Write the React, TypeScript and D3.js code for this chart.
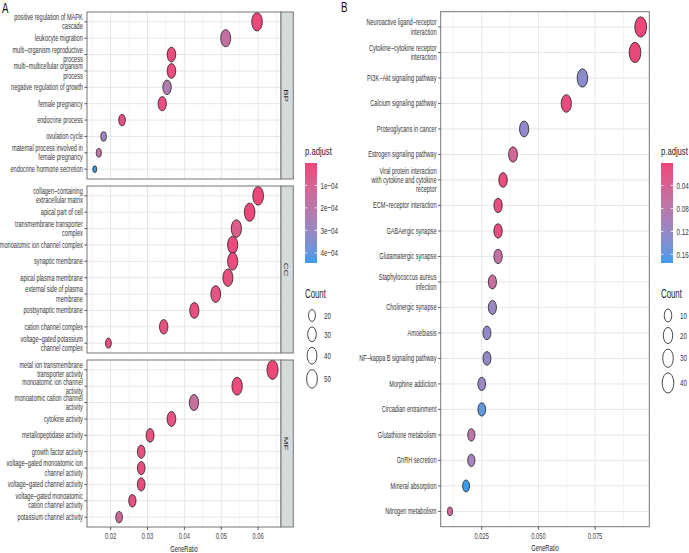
import React from "react";
import * as d3 from "d3";

// ---------- GO enrichment (panel A) ----------
const bpTerms = [
  "positive regulation of MAPK cascade",
  "leukocyte migration",
  "multi-organism reproductive process",
  "multi-multicellular organism process",
  "negative regulation of growth",
  "female pregnancy",
  "endocrine process",
  "ovulation cycle",
  "maternal process involved in female pregnancy",
  "endocrine hormone secretion",
];
const bpRatio = [0.0597, 0.0512, 0.0365, 0.0365, 0.0353, 0.034, 0.0231, 0.0181, 0.0168, 0.0157];
const bpCount = [49, 42, 30, 30, 29, 28, 19, 15, 14, 13];
const bpPadj = [3e-6, 1.65e-4, 1.5e-5, 1.5e-5, 2.25e-4, 2.6e-5, 2.8e-5, 2.8e-4, 1.85e-4, 4.45e-4];

const ccTerms = [
  "collagen-containing extracellular matrix",
  "apical part of cell",
  "transmembrane transporter complex",
  "monoatomic ion channel complex",
  "synaptic membrane",
  "apical plasma membrane",
  "external side of plasma membrane",
  "postsynaptic membrane",
  "cation channel complex",
  "voltage-gated potassium channel complex",
];
const ccRatio = [0.06, 0.0577, 0.0541, 0.0531, 0.0531, 0.0518, 0.0485, 0.0427, 0.0344, 0.0194];
const ccCount = [50, 48, 45, 44, 44, 43, 40, 35, 29, 16];
const ccPadj = [2e-7, 5e-6, 7e-5, 1.2e-5, 1.5e-5, 2.5e-5, 5e-5, 2.5e-5, 3e-5, 3e-5];

const mfTerms = [
  "metal ion transmembrane transporter activity",
  "monoatomic ion channel activity",
  "monoatomic cation channel activity",
  "cytokine activity",
  "metallopeptidase activity",
  "growth factor activity",
  "voltage-gated monoatomic ion channel activity",
  "voltage-gated channel activity",
  "voltage-gated monoatomic cation channel activity",
  "potassium channel activity",
];
const mfRatio = [0.0639, 0.0543, 0.0426, 0.0365, 0.0307, 0.0283, 0.0283, 0.0283, 0.0259, 0.0223];
const mfCount = [54, 46, 36, 31, 26, 24, 24, 24, 22, 19];
const mfPadj = [1e-6, 1.5e-5, 1.6e-4, 3.5e-5, 3e-5, 3e-5, 2.5e-5, 2.5e-5, 3.5e-5, 1.3e-4];

const goOntologies = ["BP", "CC", "MF"];
const goTicks = [0.02, 0.03, 0.04, 0.05, 0.06];
const goMinorTicks = [0.015, 0.025, 0.035, 0.045, 0.055, 0.065];
const goPadjBreaks = [1e-4, 2e-4, 3e-4, 4e-4];
const goPadjLabels = ["1e-04", "2e-04", "3e-04", "4e-04"];
const goCountBreaks = [20, 30, 40, 50];

// ---------- KEGG enrichment (panel B) ----------
const keggTerms = [
  "Neuroactive ligand-receptor interaction",
  "Cytokine-cytokine receptor interaction",
  "PI3K-Akt signaling pathway",
  "Calcium signaling pathway",
  "Proteoglycans in cancer",
  "Estrogen signaling pathway",
  "Viral protein interaction with cytokine and cytokine receptor",
  "ECM-receptor interaction",
  "GABAergic synapse",
  "Glutamatergic synapse",
  "Staphylococcus aureus infection",
  "Cholinergic synapse",
  "Amoebiasis",
  "NF-kappa B signaling pathway",
  "Morphine addiction",
  "Circadian entrainment",
  "Glutathione metabolism",
  "GnRH secretion",
  "Mineral absorption",
  "Nitrogen metabolism",
];
const keggRatio = [
  0.0951, 0.0926, 0.0694, 0.0623, 0.0437, 0.0388, 0.0344, 0.0322, 0.0322, 0.0322,
  0.0297, 0.0297, 0.0273, 0.0273, 0.025, 0.025, 0.0204, 0.0204, 0.0181, 0.011,
];
const keggCount = [42, 41, 30, 27, 19, 17, 15, 14, 14, 14, 13, 13, 12, 12, 11, 11, 9, 9, 8, 5];
const keggPadj = [
  0.0008, 0.002, 0.13, 0.008, 0.124, 0.046, 0.01, 0.012, 0.012, 0.07,
  0.06, 0.115, 0.122, 0.122, 0.116, 0.158, 0.075, 0.105, 0.175, 0.05,
];
const keggTicks = [0.025, 0.05, 0.075];
const keggMinorTicks = [0.0125, 0.0375, 0.0625, 0.0875];
const keggPadjBreaks = [0.04, 0.08, 0.12, 0.16];
const keggCountBreaks = [10, 20, 30, 40];

// ---------- styling ----------
const FONT = "'Liberation Sans', Arial, Helvetica, sans-serif";
const SX = 0.58; // horizontal compression of markers
const TX = 0.65; // horizontal compression of glyphs
const LOW_COL = "#EC4779";
const HIGH_COL = "#3C9CEB";
const GRID = "#E2E8E9";
const BORDER = "#777";
const LABEL = "#333";
const LINE_H = 9.3;

type Row = { term: string; ratio: number; count: number; padj: number };

const zipRows = (t: string[], r: number[], c: number[], p: number[]): Row[] =>
  t.map((term, i) => ({ term, ratio: r[i], count: c[i], padj: p[i] }));

function wrapText(s: string, width: number): string[] {
  const words = s.split(" ");
  const lines: string[] = [];
  let cur = "";
  for (const w of words) {
    if (!cur) cur = w;
    else if (cur.length + 1 + w.length <= width) cur += " " + w;
    else {
      lines.push(cur);
      cur = w;
    }
  }
  if (cur) lines.push(cur);
  return lines;
}
const minus = (s: string) => s.replace(/-/g, "\u2212");

function SText(props: {
  x: number;
  y: number;
  children: React.ReactNode;
  anchor?: string;
  size?: number;
  fill?: string;
  rotate?: number;
}) {
  const { x, y, children, anchor = "start", size = 8.6, fill = LABEL, rotate = 0 } = props;
  return (
    <text
      transform={`translate(${x},${y}) scale(${TX},1)${rotate ? ` rotate(${rotate})` : ""}`}
      textAnchor={anchor}
      fontSize={size}
      fill={fill}
      fontFamily={FONT}
    >
      {children}
    </text>
  );
}

function makeSize(counts: number[], rMin: number, rMax: number) {
  const lo = d3.min(counts) as number;
  const hi = d3.max(counts) as number;
  const t = d3.scaleSqrt().domain([0, hi - lo]).range([0, 1]).clamp(true);
  return (c: number) => rMin + (rMax - rMin) * t(c - lo);
}

function DotPanel(props: {
  rows: Row[];
  x: d3.ScaleLinear<number, number>;
  top: number;
  height: number;
  wrapWidth: number;
  color: (p: number) => string;
  size: (c: number) => number;
  majors: number[];
  minors: number[];
  strip?: string;
}) {
  const { rows, x, top, height, wrapWidth, color, size, majors, minors, strip } = props;
  const [x0, x1] = x.range();
  const y = d3
    .scalePoint<string>()
    .domain(rows.map((r) => r.term))
    .range([top, top + height])
    .padding(0.6);
  const drawOrder = [...rows].sort((a, b) => b.count - a.count);
  return (
    <g>
      <rect x={x0} y={top} width={x1 - x0} height={height} fill="#fff" />
      {minors.map((v) => (
        <line key={"mn" + v} x1={x(v)} x2={x(v)} y1={top} y2={top + height} stroke={GRID} strokeWidth={0.5} />
      ))}
      {majors.map((v) => (
        <line key={"mj" + v} x1={x(v)} x2={x(v)} y1={top} y2={top + height} stroke={GRID} strokeWidth={1} />
      ))}
      {rows.map((r) => (
        <line key={"h" + r.term} x1={x0} x2={x1} y1={y(r.term)} y2={y(r.term)} stroke={GRID} strokeWidth={1} />
      ))}
      {drawOrder.map((r) => (
        <ellipse
          key={"d" + r.term}
          cx={x(r.ratio)}
          cy={y(r.term) as number}
          rx={size(r.count) * SX}
          ry={size(r.count)}
          fill={color(r.padj)}
          stroke="#1a1a1a"
          strokeWidth={0.75}
        />
      ))}
      <rect x={x0} y={top} width={x1 - x0} height={height} fill="none" stroke={BORDER} strokeWidth={1} />
      {rows.map((r) => {
        const cy = y(r.term) as number;
        const lines = wrapText(r.term, wrapWidth);
        const startY = cy - ((lines.length - 1) * LINE_H) / 2;
        return (
          <g key={"l" + r.term}>
            <line x1={x0 - 2.6} x2={x0} y1={cy} y2={cy} stroke="#333" strokeWidth={0.8} />
            {lines.map((ln, i) => (
              <SText key={i} x={x0 - 4.2} y={startY + i * LINE_H + 3} anchor="end" size={8.6}>
                {minus(ln)}
              </SText>
            ))}
          </g>
        );
      })}
      {strip && (
        <g>
          <rect x={x1} y={top} width={12.3} height={height} fill="#D5DBDB" stroke={BORDER} strokeWidth={1} />
          <SText x={x1 + 6.15 - 3.2} y={top + height / 2} anchor="middle" size={9.5} fill="#222" rotate={90}>
            {strip}
          </SText>
        </g>
      )}
    </g>
  );
}

function XAxis(props: {
  x: d3.ScaleLinear<number, number>;
  y: number;
  ticks: number[];
  fmt: (v: number) => string;
}) {
  const { x, y, ticks, fmt } = props;
  const [x0, x1] = x.range();
  return (
    <g>
      {ticks.map((v) => (
        <g key={v}>
          <line x1={x(v)} x2={x(v)} y1={y} y2={y + 3} stroke="#333" strokeWidth={0.8} />
          <SText x={x(v)} y={y + 12.3} anchor="middle" size={8.9} fill="#444">
            {fmt(v)}
          </SText>
        </g>
      ))}
      <SText x={(x0 + x1) / 2} y={y + 24.5} anchor="middle" size={8.8} fill="#222">
        GeneRatio
      </SText>
    </g>
  );
}

function Legends(props: {
  id: string;
  left: number;
  pDomain: [number, number];
  color: (p: number) => string;
  pBreaks: number[];
  pLabels: string[];
  size: (c: number) => number;
  countBreaks: number[];
}) {
  const { id, left, pDomain, color, pBreaks, pLabels, size, countBreaks } = props;
  const barTop = 163;
  const barH = 100;
  const barW = 12;
  const py = d3.scaleLinear().domain(pDomain).range([barTop, barTop + barH]);
  const stops = d3.range(0, 1.0001, 0.1);
  // count keys stacked by their symbol size
  const heights = countBreaks.map((c) => Math.max(17, 2 * size(c) + 5.5));
  const centers: number[] = [];
  let acc = 315.5;
  heights.forEach((h, i) => {
    if (i > 0) acc += (heights[i - 1] + h) / 2;
    centers.push(acc);
  });
  const cx = left + 7;
  return (
    <g>
      <defs>
        <linearGradient id={id} x1="0" y1="0" x2="0" y2="1">
          {stops.map((s) => (
            <stop key={s} offset={s} stopColor={color(pDomain[0] + s * (pDomain[1] - pDomain[0]))} />
          ))}
        </linearGradient>
      </defs>
      <SText x={left} y={155} size={11.8} fill="#222">
        p.adjust
      </SText>
      <rect x={left} y={barTop} width={barW} height={barH} fill={`url(#${id})`} />
      {pBreaks.map((b, i) => (
        <g key={b}>
          <line x1={left} x2={left + 2.4} y1={py(b)} y2={py(b)} stroke="#fff" strokeWidth={0.8} />
          <line x1={left + barW - 2.4} x2={left + barW} y1={py(b)} y2={py(b)} stroke="#fff" strokeWidth={0.8} />
          <SText x={left + barW + 3.5} y={py(b) + 3.2} size={9.6} fill="#333">
            {minus(pLabels[i])}
          </SText>
        </g>
      ))}
      <SText x={left} y={298} size={12} fill="#222">
        Count
      </SText>
      {countBreaks.map((c, i) => (
        <g key={c}>
          <ellipse cx={cx} cy={centers[i]} rx={size(c) * SX} ry={size(c)} fill="none" stroke="#1a1a1a" strokeWidth={0.8} />
          <SText x={cx + 12} y={centers[i] + 3.2} size={9.6} fill="#333">
            {c}
          </SText>
        </g>
      ))}
    </g>
  );
}

export default function App() {
  const bp = zipRows(bpTerms, bpRatio, bpCount, bpPadj);
  const cc = zipRows(ccTerms, ccRatio, ccCount, ccPadj);
  const mf = zipRows(mfTerms, mfRatio, mfCount, mfPadj);
  const kegg = zipRows(keggTerms, keggRatio, keggCount, keggPadj);
  const goRows = [bp, cc, mf];

  // panel A scales
  const goAll = [...bp, ...cc, ...mf];
  const xA = d3.scaleLinear().domain([0.0136, 0.0662]).range([87, 281]);
  const goPDomain: [number, number] = [d3.min(goAll, (d) => d.padj) as number, d3.max(goAll, (d) => d.padj) as number];
  const colA = d3.scaleLinear<string>().domain(goPDomain).range([LOW_COL, HIGH_COL]).interpolate(d3.interpolateLab);
  const sizeA = makeSize(goAll.map((d) => d.count), 3.4, 9.6);
  const facetTops = [12, 186, 360];
  const facetH = 167;

  // panel B scales
  const xB = d3.scaleLinear().domain([0.0069, 0.0989]).range([440.7, 649.3]);
  const keggPDomain: [number, number] = [d3.min(kegg, (d) => d.padj) as number, d3.max(kegg, (d) => d.padj) as number];
  const colB = d3.scaleLinear<string>().domain(keggPDomain).range([LOW_COL, HIGH_COL]).interpolate(d3.interpolateLab);
  const sizeB = makeSize(kegg.map((d) => d.count), 4.3, 10.2);

  return (
    <svg width={689} height={553} style={{ position: "absolute", left: 0, top: 0, background: "#fff" }}>
      <rect width={689} height={553} fill="#fff" />
      <SText x={2} y={13} size={15} fill="#111">
        A
      </SText>
      {goRows.map((rows, i) => (
        <DotPanel
          key={goOntologies[i]}
          rows={rows}
          x={xA}
          top={facetTops[i]}
          height={facetH}
          wrapWidth={30}
          color={colA}
          size={sizeA}
          majors={goTicks}
          minors={goMinorTicks}
          strip={goOntologies[i]}
        />
      ))}
      <XAxis x={xA} y={facetTops[2] + facetH} ticks={goTicks} fmt={d3.format(".2f")} />
      <Legends
        id="gradA"
        left={305}
        pDomain={goPDomain}
        color={colA}
        pBreaks={goPadjBreaks}
        pLabels={goPadjLabels}
        size={sizeA}
        countBreaks={goCountBreaks}
      />

      <SText x={341} y={12} size={15} fill="#111">
        B
      </SText>
      <DotPanel
        rows={kegg}
        x={xB}
        top={11.7}
        height={515}
        wrapWidth={28}
        color={colB}
        size={sizeB}
        majors={keggTicks}
        minors={keggMinorTicks}
      />
      <XAxis x={xB} y={526.7} ticks={keggTicks} fmt={d3.format(".3f")} />
      <Legends
        id="gradB"
        left={661}
        pDomain={keggPDomain}
        color={colB}
        pBreaks={keggPadjBreaks}
        pLabels={keggPadjBreaks.map((v) => d3.format(".2f")(v))}
        size={sizeB}
        countBreaks={keggCountBreaks}
      />
    </svg>
  );
}
